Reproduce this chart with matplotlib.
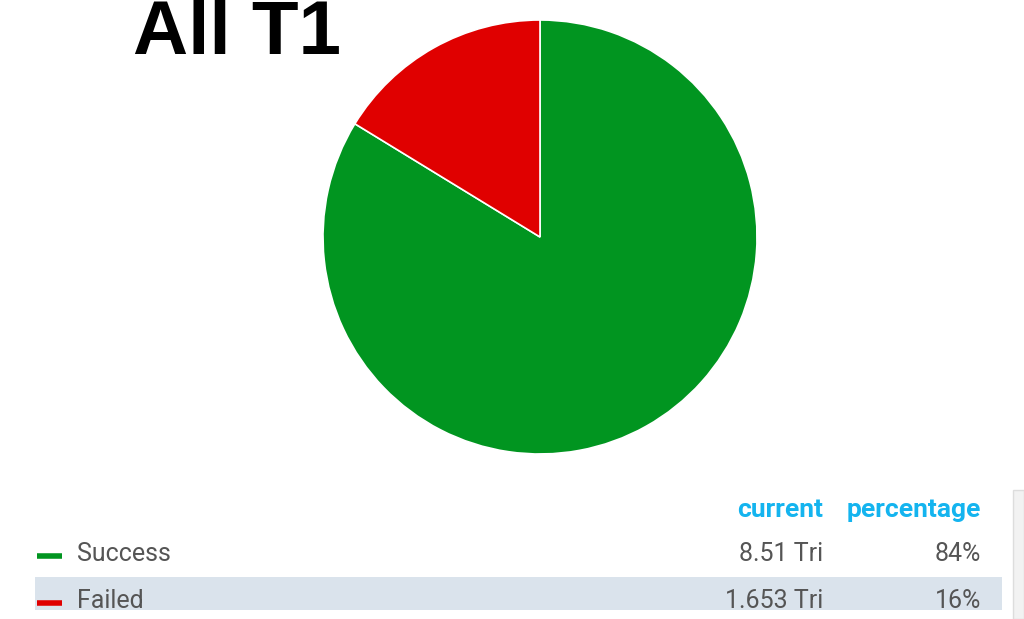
import matplotlib.pyplot as plt
from matplotlib.patches import Rectangle

labels = ['Success', 'Failed']
values = [8.51, 1.653]
current = ['8.51 Tri', '1.653 Tri']
percent = ['84%', '16%']
colors = ['#019520', '#e00000']

W, H = 1024, 619
fig = plt.figure(figsize=(W / 100, H / 100), dpi=100)

# pie: centre ~(540, 237) px, radius ~217 px
cx, cy, r = 540, 237, 217
ax = fig.add_axes([(cx - r) / W, (H - cy - r) / H, 2 * r / W, 2 * r / H])
ax.pie(values, colors=colors, startangle=90, counterclock=False,
       wedgeprops=dict(edgecolor='white', linewidth=1.2))
ax.set_xlim(-1.0, 1.0)
ax.set_ylim(-1.0, 1.0)

# overlay in pixel coords for title + table
ov = fig.add_axes([0, 0, 1, 1], zorder=-1)
ov.set_xlim(0, W)
ov.set_ylim(H, 0)
ov.axis('off')

ov.text(133, 54, 'All T1', fontsize=55, fontweight='bold', color='black',
        family=['Liberation Sans', 'DejaVu Sans'], ha='left', va='baseline')

head_col = '#14b4ef'
txt_col = '#555555'
fam = ['Roboto', 'DejaVu Sans']
ov.text(823, 510, 'current', color=head_col, fontsize=19, fontweight='bold',
        family=fam, ha='right', va='center')
ov.text(981, 510, 'percentage', color=head_col, fontsize=19, fontweight='bold',
        family=fam, ha='right', va='center')

# striped row background
ov.add_patch(Rectangle((35, 577), 967, 33, facecolor='#dae3ec', edgecolor='none'))
# right scroll edge
ov.add_patch(Rectangle((1013, 490), 11, 129, facecolor='#f2f2f2', edgecolor='#dddddd', lw=1))

row_y = [554, 601]
for i, lab in enumerate(labels):
    y = row_y[i]
    ov.plot([37, 62], [y + 2, y + 2], color=colors[i], lw=4, solid_capstyle='butt')
    ov.text(77, y, lab, color=txt_col, fontsize=18, family=fam, ha='left', va='center')
    ov.text(823, y, current[i], color=txt_col, fontsize=18, family=fam, ha='right', va='center')
    ov.text(981, y, percent[i], color=txt_col, fontsize=18, family=fam, ha='right', va='center')

# table is cut off at the bottom
ov.add_patch(Rectangle((0, 610), 1011, 9, facecolor='white', edgecolor='none', zorder=5))

fig.savefig('out.png', dpi=100)
